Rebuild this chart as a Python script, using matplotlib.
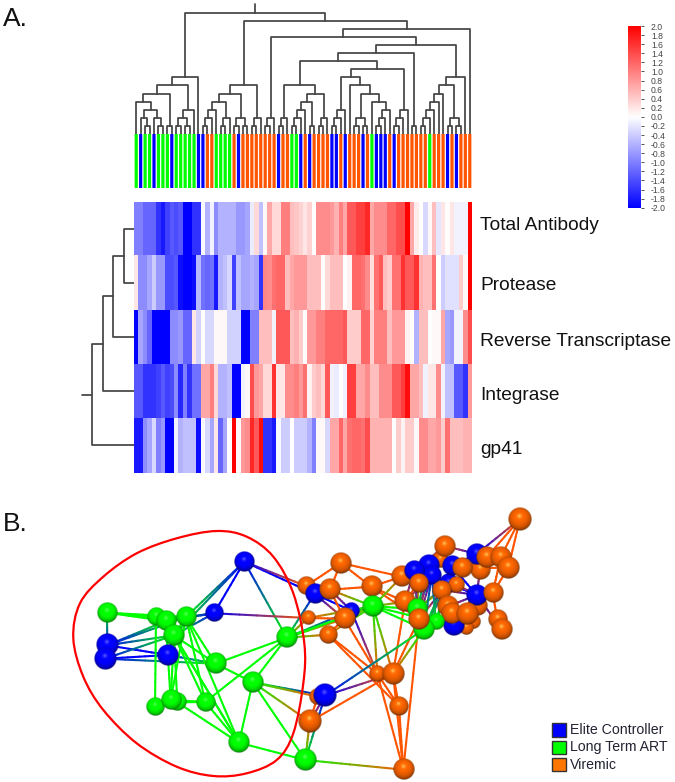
import numpy as np
import matplotlib
matplotlib.use('Agg')
import matplotlib.pyplot as plt
from matplotlib.colors import LinearSegmentedColormap, to_rgb
from matplotlib.collections import LineCollection
from matplotlib.patches import Rectangle, PathPatch
from matplotlib.path import Path

plt.rcParams['font.family'] = ['Liberation Sans', 'DejaVu Sans']

W, H = 675, 782

# heatmap values, one list per antibody
row_names = ['Total Antibody', 'Protease', 'Reverse Transcriptase', 'Integrase', 'gp41']
row_total = [-1.0, -1.0, -1.2, -1.2, -1.2, -1.6, -1.8, -1.5, -1.3, -1.4, -1.3, -2.0, -2.0, -1.6, -1.6,
             -0.05, -0.6, -0.1, -0.9, -0.6, -0.6, -0.6, -0.6, -0.8, -0.8, -0.7, -0.15, 0.3, -0.5, 0.05,
             0.7, 0.3, 0.3, 1.0, 1.0, 0.5, 0.45, 0.35, 0.2, 0.35, 0.0, 0.9, 0.9, 0.9, 0.8,
             0.6, 1.0, 0.7, 1.3, 1.3, 1.5, 1.5, 1.7, 0.7, 0.9, 0.9, 0.9, 1.2, 1.2, 1.4,
             1.4, 2.0, 0.7, 0.15, 0.0, -0.3, 0.05, 0.5, -0.2, 0.2, 0.02, 0.2, -0.1, -0.1, -0.1, 2.0]
row_protease = [0.2, -0.9, -0.9, -0.7, -0.4, -0.8, -0.8, -1.4, -1.4, -1.3, -1.9, -2.0, -2.0, -1.9, -0.55,
                -1.1, -1.2, -1.1, -1.8, -0.6, -0.5, -0.3, -1.5, -0.5, -0.7, -0.7, -0.6, -0.7, -1.6, 0.95,
                0.9, 1.1, 1.2, 1.2, 0.5, 0.7, 0.8, 0.8, 0.8, 0.5, 0.5, 0.5, 0.0, 0.3, 0.5,
                0.5, 0.5, 0.0, 0.1, 1.2, 1.2, 1.1, 0.9, 0.25, 1.1, 1.3, 0.5, 0.4, 1.1, 1.1,
                1.6, 1.3, 1.3, 1.6, 0.6, 0.5, 0.5, 1.1, 0.02, -0.4, -0.25, -0.25, -0.25, 0.4, 0.05, 2.0]
row_rt = [-2.0, -0.7, -0.9, -1.2, -2.0, -2.0, -2.0, -2.0, -0.9, -0.9, -0.8, -1.2, -1.2, 0.2, -0.35,
          0.0, -0.3, -0.3, 0.05, 0.05, 0.05, -0.35, -0.35, -0.35, -2.0, -2.0, -1.0, -1.0, 0.5, 0.5,
          0.5, -0.1, 1.3, 1.3, 1.3, 0.5, 0.6, 0.4, 0.0, 0.8, 0.8, 1.0, 1.0, 1.2, 1.2,
          1.2, 1.2, 1.3, 0.4, 0.4, 0.4, 1.2, 1.2, 0.35, 1.0, 1.0, 1.0, 0.5, 0.8, 0.8,
          0.8, 0.1, 0.02, -0.6, 0.5, 0.5, 0.0, 0.05, 0.05, 0.7, -0.7, -0.8, -0.1, -0.1, 0.9, 1.4]
row_integrase = [-1.3, -1.3, -1.6, -1.6, -1.6, -1.5, -1.3, -1.5, -1.4, -0.9, -1.7, -1.0, -1.6, -1.1, -1.1,
                 0.7, 0.7, 1.0, 0.3, -0.6, -0.6, -0.5, -2.0, -2.0, -0.1, 0.05, 1.4, 0.8, 0.7, 0.3,
                 0.3, 1.6, 0.2, 0.2, 0.9, 0.9, 1.0, 0.8, 1.1, 0.1, 0.4, 0.5, 0.3, 1.3, -0.1,
                 -0.15, 0.0, -0.1, 1.5, 1.5, 0.7, 0.7, 0.9, 0.5, 0.5, 0.9, 0.9, 0.9, 1.3, 1.3,
                 1.5, 1.9, 0.7, 0.7, 0.5, -0.1, 0.2, 0.2, 0.9, -0.1, -0.5, -0.5, -1.3, -1.3, -1.6, 0.8]
row_gp41 = [-1.8, -1.8, -0.9, -0.7, -0.3, -1.0, -0.8, -2.0, -2.0, -0.1, -0.6, -0.5, -0.5, -0.5, -1.9,
            -0.05, -0.3, -0.7, 0.2, -1.2, -0.7, 0.0, 2.0, 0.05, 0.8, 0.9, 1.7, 1.3, 1.9, -1.6,
            -1.6, -1.8, -0.05, -0.4, -0.4, 0.0, -0.4, -0.4, -0.4, -0.6, -1.0, 0.05, 0.05, -0.3, 0.7,
            0.7, 1.2, 0.7, 1.1, 1.2, 1.2, 1.1, 1.4, 0.6, 0.6, 0.6, 0.6, 0.6, 0.0, 0.4,
            0.1, 0.4, 0.4, 0.05, 0.9, 0.9, 0.7, 0.7, 0.8, 0.4, 1.1, 0.5, 0.5, 0.5, 0.6, 0.6]

# sample group per column: E elite controller, L long term ART, V viremic
col_groups = list('LELLELLLELLLLLEEVVLLLLVEVVVVVVVVEVVLLEVEVVVVEEVEVVVEVLEEEVEVVVVVVVLVVVEVEVVV')

# dendrograms as nested (level, left, right), ints are leaves
col_tree = (15,
    (7, (6, (5, (4, 0, (3, (2, 1, (1, 2, 3)), (2, 4, (1, 5, 6)))), (1, 7, 8)),
            (3, (2, (1, 9, 10), (1, 11, 12)), 13)), 14),
    (14,
        (6, (5, (4, (3, (2, (1, 15, 16), 17), 18), (2, (1, 19, 20), 21)),
                (2, (1, 22, 23), (1, 24, 25))),
            (2, (1, 26, 27), 28)),
        (13,
            (12,
                (2, (1, 29, 30), 31),
                (11,
                    (10,
                        (9,
                            (6, (2, (1, 32, 33), 34),
                                (5, (4, (3, (2, (1, 35, 36), 37), 38), (1, 39, 40)),
                                    (2, (1, 41, 42), 43))),
                            (8,
                                (7, (3, (2, (1, 44, 45), 46), 47),
                                    (6, 48, (5, (2, (1, 49, 50), (1, 51, 52)),
                                                (4, 53, (3, (2, (1, 54, 55), 56), 57))))),
                                (3, (2, (1, 58, 59), 60), 61))),
                        (1, 62, 63)),
                    (7, (6, (5, (4, (3, (2, (1, 64, 65), 66), 67), 68), 69),
                            (2, (1, 70, 71), (1, 72, 73))), 74))),
            75)))
row_tree = (4, (3, (2, (1, 0, 1), 2), 3), 4)

bar_ticks = np.round(np.arange(-2, 2.01, 0.2), 1)
legend_names = ['Elite Controller', 'Long Term ART', 'Viremic']

# network nodes
node_x = [107, 156, 165.7, 186, 214, 244.3, 174, 107.3, 105, 168, 215.7, 286.7, 252.7, 155, 177.3, 170.7, 205.3,
          239, 305.3, 520, 340.7, 306, 314.7, 330, 371.3, 351.3, 373, 344.3, 308, 328, 377.3, 393, 317.7, 325,
          309.7, 399, 403.3, 440, 445, 401.7, 428.3, 431.7, 414, 418.3, 480, 476.7, 486.7, 500.7, 508.3, 448.3,
          456.7, 451.7, 461.7, 441.7, 477.3, 476.7, 492.7, 473.3, 466.7, 453.3, 447.3, 451.7, 467.3, 497.3,
          501.3, 405, 417.3, 436, 424, 419]
node_y = [612.7, 617.3, 621, 617, 613.3, 561.7, 635.3, 645.3, 658.7, 655, 663.7, 637.7, 682.3, 706.7, 702.3, 700,
          702, 742.7, 760, 519, 563, 586, 594, 589.7, 586.7, 610.7, 606.3, 618.7, 618, 634.7, 673.7, 673.7,
          696.7, 695.7, 721.7, 706.3, 769.7, 560, 546, 576.7, 565, 575, 570.7, 583.3, 570, 554, 557.3, 557.3,
          567.7, 583.3, 585, 566, 568.3, 590, 606, 595, 593.3, 621.7, 628, 625.7, 606.7, 613.3, 614.3, 619.3,
          629, 601.7, 609, 621.7, 629.3, 619]
node_r = [9.7, 8.5, 9.5, 9.5, 8.5, 9.5, 10, 10.5, 10.5, 10, 10, 10, 10, 8.5, 8.5, 9.5, 9, 10, 10.5, 11, 10, 8.5,
          9.5, 10, 10, 8, 10, 10, 7, 8.5, 8, 10.5, 8, 11, 11, 9, 10, 8, 10, 10, 10, 9, 9.5, 9, 9.5, 10, 10, 10,
          10.5, 9, 8, 9.5, 9.5, 9, 9.5, 10, 9.5, 7, 7, 10, 10, 10, 10.5, 9, 10, 10, 9.5, 8, 10, 10]
node_groups = list('LLLLEELEEELLLLLLLLLVVVEVVELVVVVVVEVVVVVVEEEVVEVVVEVEVVVEVVVEVVVVVVLLLV')

edges = [(0, 1), (0, 2), (0, 3), (0, 7), (1, 2), (1, 3), (2, 3), (2, 6), (3, 6), (3, 4), (2, 4), (6, 4), (3, 5),
         (5, 4), (5, 6), (7, 2), (5, 11), (5, 22), (5, 21), (7, 3), (7, 6), (7, 9), (8, 9), (8, 10), (8, 6), (7, 8), (9, 6),
         (9, 10), (6, 10), (3, 10), (1, 13), (2, 15), (6, 15), (6, 14), (3, 15), (3, 16), (3, 17), (2, 17), (6, 17),
         (6, 16), (15, 14), (14, 16), (15, 16), (13, 14), (10, 12), (10, 11), (16, 11), (12, 11), (12, 17), (16, 17),
         (14, 17), (12, 18), (17, 18), (4, 28), (12, 33), (12, 32), (12, 34), (11, 22), (11, 25), (11, 29), (11, 27),
         (11, 28), (11, 26), (18, 34), (18, 33), (18, 36), (20, 23), (20, 21), (20, 24), (20, 39), (22, 27), (22, 25),
         (21, 22), (23, 22), (23, 24), (23, 27), (23, 25), (23, 26), (27, 29), (24, 26), (24, 39), (24, 65), (24, 69),
         (27, 25), (27, 26), (26, 25), (26, 31), (26, 30), (28, 27), (29, 26), (28, 26), (25, 30), (27, 30), (29, 30),
         (29, 35), (30, 35), (31, 35), (31, 36), (30, 36), (35, 36), (69, 36), (31, 69), (31, 65), (31, 68), (33, 31),
         (33, 68), (34, 31), (33, 34), (32, 34), (26, 68), (26, 66), (26, 67), (26, 39), (26, 65), (19, 45), (19, 47),
         (19, 48), (19, 46), (38, 45), (45, 47), (63, 56), (64, 55), (55, 41), (40, 51), (42, 38), (66, 40), (66, 41),
         (66, 42), (66, 43), (66, 49), (66, 53), (69, 40), (69, 41), (69, 42), (69, 49), (68, 41), (68, 49), (68, 53),
         (68, 51), (67, 41), (67, 49), (67, 51), (65, 42), (65, 43), (65, 41), (60, 55), (53, 55), (49, 55), (51, 55),
         (39, 43), (56, 48), (56, 47), (52, 46), (52, 48), (59, 62), (60, 61), (45, 51), (44, 55), (50, 55)]

# red outline around the long term ART cluster
ring_x = [73.3, 80, 103.3, 136.7, 176.7, 216.7, 246.7, 273.3, 293.3, 304.3, 303.3, 293.3, 276.7, 246.7, 213.3,
          176.7, 136.7, 103.3, 83.3]
ring_y = [638.3, 603.3, 576.7, 553.3, 538.3, 531, 536.7, 556.7, 593.3, 643.3, 683.3, 733.3, 760, 773.3, 776,
          766.7, 743.3, 710, 676.7]

group_colors = {'E': '#0000ff', 'L': '#00ff00', 'V': '#ff5500'}
sphere_colors = {'E': '#0000ff', 'L': '#00ff00', 'V': '#f06000'}
legend_colors = ['#0000ff', '#00ff00', '#ff7700']
line_color = '#444444'

heat_cmap = LinearSegmentedColormap.from_list('bwr2', ['#0000ff', '#ffffff', '#ff0000'])


def axes_px(left, top, right, bottom):
    ax = fig.add_axes([left / W, 1 - bottom / H, (right - left) / W, (bottom - top) / H])
    ax.patch.set_alpha(0)
    ax.set_axis_off()
    return ax


def tree_segments(node, segs):
    if not isinstance(node, tuple):
        return node + 0.5, 0
    level, left, right = node
    p1, l1 = tree_segments(left, segs)
    p2, l2 = tree_segments(right, segs)
    segs.append([(p1, l1), (p1, level), (p2, level), (p2, l2)])
    return (p1 + p2) / 2, level


def sphere_image(color, n=48):
    yy, xx = np.mgrid[-1:1:n * 1j, -1:1:n * 1j]
    rr = np.hypot(xx, yy)
    nz = np.sqrt(np.clip(1 - rr ** 2, 0, 1))
    lx, ly, lz = -0.05, -0.25, 0.96
    diffuse = np.clip(xx * lx + yy * ly + nz * lz, 0, 1)
    spec = diffuse ** 60
    rgb = np.array(to_rgb(color))
    img = np.zeros((n, n, 4))
    for k in range(3):
        img[..., k] = np.clip(rgb[k] * (0.38 + 0.72 * diffuse ** 0.7) + 0.5 * spec, 0, 1)
    img[..., 3] = np.clip((1 - rr) * n / 2, 0, 1)
    return img


def ring_path(xs, ys):
    pts = np.column_stack([xs, ys])
    n = len(pts)
    verts = [pts[0]]
    codes = [Path.MOVETO]
    for i in range(n):
        p0, p1, p2, p3 = pts[i - 1], pts[i], pts[(i + 1) % n], pts[(i + 2) % n]
        verts += [p1 + (p2 - p0) / 6, p2 - (p3 - p1) / 6, p2]
        codes += [Path.CURVE4] * 3
    return Path(verts, codes)


fig = plt.figure(figsize=(W / 100, H / 100), dpi=100, facecolor='white')

# top dendrogram
ax_top = axes_px(134, 0, 472, 134)
segs = []
p, lev = tree_segments(col_tree, segs)
segs.append([(p, lev), (p, lev + 1)])
ax_top.add_collection(LineCollection(segs, colors=line_color, linewidths=1.25, capstyle='round'))
ax_top.set_xlim(0, len(col_groups))
ax_top.set_ylim(0, 134 / 8.1)

# group strip
ax_strip = axes_px(134, 134, 472, 188)
strip = ax_strip.bar(np.arange(len(col_groups)) + 0.5, 1, width=0.72, color=[group_colors[g] for g in col_groups])
for b in strip:
    b.set_snap(False)
ax_strip.set_xlim(0, len(col_groups))
ax_strip.set_ylim(0, 1)

# heatmap
heat = np.array([row_total, row_protease, row_rt, row_integrase, row_gp41])
ax_heat = axes_px(134, 201.5, 472, 472.5)
ax_heat.imshow(heat, cmap=heat_cmap, vmin=-2, vmax=2, aspect='auto', interpolation='nearest')

# row dendrogram
ax_left = axes_px(70, 201.5, 134, 472.5)
segs = []
p, lev = tree_segments(row_tree, segs)
segs.append([(p, lev), (p, lev + 1)])
ax_left.add_collection(LineCollection([[(b, a) for a, b in s] for s in segs], colors=line_color,
                                      linewidths=1.25, capstyle='round'))
ax_left.set_xlim(64 / 10.5, 0)
ax_left.set_ylim(5, 0)

# colour bar
ax_bar = fig.add_axes([628.3 / W, 1 - 207.7 / H, 13 / W, 181.7 / H])
gradient = np.linspace(2, -2, 256).reshape(-1, 1)
ax_bar.imshow(gradient, cmap=heat_cmap, vmin=-2, vmax=2, aspect='auto', extent=[0, 1, -2, 2])
ax_bar.set_xticks([])
ax_bar.yaxis.tick_right()
ax_bar.set_yticks(bar_ticks)
ax_bar.set_yticklabels(['%.1f' % abs(v) if v == 0 else '%.1f' % v for v in bar_ticks], fontsize=6.2, color='#444444')
ax_bar.set_yticks([-2, -1, 0, 1, 2], minor=True)
ax_bar.tick_params(axis='y', which='major', length=2, width=0.7, color='#555555', pad=5)
ax_bar.tick_params(axis='y', which='minor', length=5.5, width=0.7, color='#555555')
for s in ax_bar.spines.values():
    s.set_visible(False)

# everything else in picture pixels
ax = axes_px(0, 0, W, H)
ax.set_zorder(5)

xs = np.array(node_x)
ys = np.array(node_y)
gradient_segs = []
gradient_cols = []
for a, b in edges:
    c1 = np.array(to_rgb(group_colors[node_groups[a]]))
    c2 = np.array(to_rgb(group_colors[node_groups[b]]))
    for t0, t1 in zip(np.linspace(0, 1, 12)[:-1], np.linspace(0, 1, 12)[1:]):
        p0 = (xs[a] + (xs[b] - xs[a]) * t0, ys[a] + (ys[b] - ys[a]) * t0)
        p1 = (xs[a] + (xs[b] - xs[a]) * t1, ys[a] + (ys[b] - ys[a]) * t1)
        gradient_segs.append([p0, p1])
        gradient_cols.append(c1 + (c2 - c1) * (t0 + t1) / 2)
ax.add_collection(LineCollection(gradient_segs, colors=gradient_cols, linewidths=1.5, zorder=2, capstyle='round'))

images = {g: sphere_image(c) for g, c in sphere_colors.items()}
for i, (x, y, r, g) in enumerate(zip(node_x, node_y, node_r, node_groups)):
    r = r * 1.06
    ax.imshow(images[g], extent=[x - r, x + r, y + r, y - r], zorder=3 + i * 0.01,
              interpolation='bilinear', aspect='auto')

ax.add_patch(PathPatch(ring_path(ring_x, ring_y), facecolor='none', edgecolor='#ff0000', linewidth=1.6, zorder=2.5))

ax.set_xlim(0, W)
ax.set_ylim(H, 0)

# text
ax.text(3, 19, 'A.', fontsize=19, va='center', ha='left', color='#111111')
ax.text(3, 524, 'B.', fontsize=19, va='center', ha='left', color='#111111')
for name, y in zip(row_names, [225, 285, 341, 395, 449]):
    ax.text(480, y, name, fontsize=13.8, va='center', ha='left', color='#111111')

for name, c, y in zip(legend_names, legend_colors, [723.3, 740.7, 758]):
    ax.add_patch(Rectangle((552.3, y), 13.7, 13.4, facecolor=c, edgecolor='#333333', linewidth=1, zorder=4))
    ax.text(570, y + 6.7, name, fontsize=10.2, va='center', ha='left', color='#222233', zorder=4)

fig.savefig('out.png', dpi=100)
